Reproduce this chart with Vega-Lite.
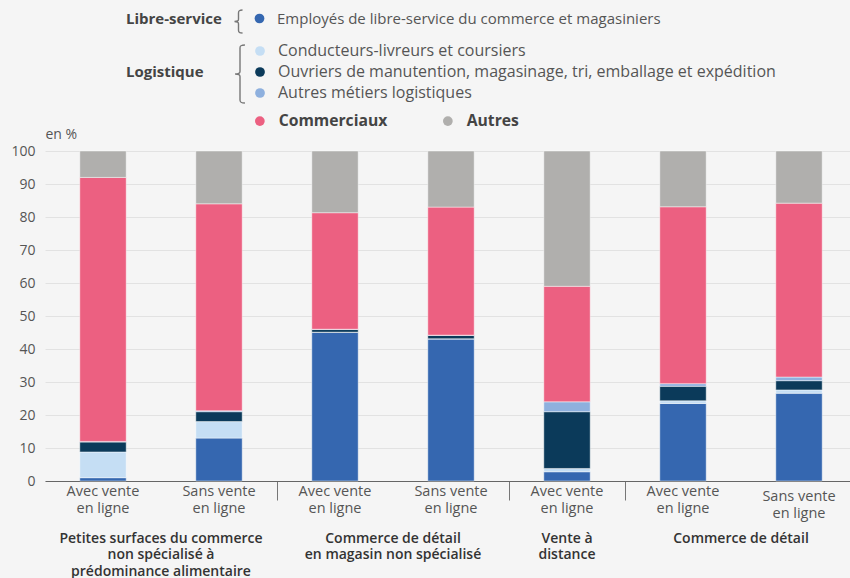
{
  "$schema": "https://vega.github.io/schema/vega-lite/v6.json",
  "autosize": {"type": "none"},
  "width": 805,
  "height": 330,
  "padding": {"left": 45, "top": 151, "right": 0, "bottom": 97},
  "background": "#f5f5f5",
  "config": {
    "view": {"stroke": null},
    "font": "Open Sans",
    "legend": {"padding": 0}
  },
  "data": {
    "values": [
      {"bar": "b1", "cat": "Employés de libre-service du commerce et magasiniers", "ord": 1, "value": 1},
      {"bar": "b1", "cat": "Conducteurs-livreurs et coursiers", "ord": 2, "value": 7.8},
      {"bar": "b1", "cat": "Ouvriers de manutention, magasinage, tri, emballage et expédition", "ord": 3, "value": 3},
      {"bar": "b1", "cat": "Autres métiers logistiques", "ord": 4, "value": 0.2},
      {"bar": "b1", "cat": "Commerciaux", "ord": 5, "value": 80},
      {"bar": "b1", "cat": "Autres", "ord": 6, "value": 8},
      {"bar": "b2", "cat": "Employés de libre-service du commerce et magasiniers", "ord": 1, "value": 13},
      {"bar": "b2", "cat": "Conducteurs-livreurs et coursiers", "ord": 2, "value": 5},
      {"bar": "b2", "cat": "Ouvriers de manutention, magasinage, tri, emballage et expédition", "ord": 3, "value": 3},
      {"bar": "b2", "cat": "Autres métiers logistiques", "ord": 4, "value": 0.3},
      {"bar": "b2", "cat": "Commerciaux", "ord": 5, "value": 62.7},
      {"bar": "b2", "cat": "Autres", "ord": 6, "value": 16},
      {"bar": "b3", "cat": "Employés de libre-service du commerce et magasiniers", "ord": 1, "value": 45},
      {"bar": "b3", "cat": "Conducteurs-livreurs et coursiers", "ord": 2, "value": 0.1},
      {"bar": "b3", "cat": "Ouvriers de manutention, magasinage, tri, emballage et expédition", "ord": 3, "value": 0.8},
      {"bar": "b3", "cat": "Autres métiers logistiques", "ord": 4, "value": 0.1},
      {"bar": "b3", "cat": "Commerciaux", "ord": 5, "value": 35.3},
      {"bar": "b3", "cat": "Autres", "ord": 6, "value": 18.7},
      {"bar": "b4", "cat": "Employés de libre-service du commerce et magasiniers", "ord": 1, "value": 43},
      {"bar": "b4", "cat": "Conducteurs-livreurs et coursiers", "ord": 2, "value": 0.1},
      {"bar": "b4", "cat": "Ouvriers de manutention, magasinage, tri, emballage et expédition", "ord": 3, "value": 1},
      {"bar": "b4", "cat": "Autres métiers logistiques", "ord": 4, "value": 0.1},
      {"bar": "b4", "cat": "Commerciaux", "ord": 5, "value": 38.8},
      {"bar": "b4", "cat": "Autres", "ord": 6, "value": 17},
      {"bar": "b5", "cat": "Employés de libre-service du commerce et magasiniers", "ord": 1, "value": 2.8},
      {"bar": "b5", "cat": "Conducteurs-livreurs et coursiers", "ord": 2, "value": 1},
      {"bar": "b5", "cat": "Ouvriers de manutention, magasinage, tri, emballage et expédition", "ord": 3, "value": 17.2},
      {"bar": "b5", "cat": "Autres métiers logistiques", "ord": 4, "value": 3},
      {"bar": "b5", "cat": "Commerciaux", "ord": 5, "value": 35},
      {"bar": "b5", "cat": "Autres", "ord": 6, "value": 41},
      {"bar": "b6", "cat": "Employés de libre-service du commerce et magasiniers", "ord": 1, "value": 23.5},
      {"bar": "b6", "cat": "Conducteurs-livreurs et coursiers", "ord": 2, "value": 0.8},
      {"bar": "b6", "cat": "Ouvriers de manutention, magasinage, tri, emballage et expédition", "ord": 3, "value": 4.4},
      {"bar": "b6", "cat": "Autres métiers logistiques", "ord": 4, "value": 0.8},
      {"bar": "b6", "cat": "Commerciaux", "ord": 5, "value": 53.6},
      {"bar": "b6", "cat": "Autres", "ord": 6, "value": 16.9},
      {"bar": "b7", "cat": "Employés de libre-service du commerce et magasiniers", "ord": 1, "value": 26.6},
      {"bar": "b7", "cat": "Conducteurs-livreurs et coursiers", "ord": 2, "value": 1},
      {"bar": "b7", "cat": "Ouvriers de manutention, magasinage, tri, emballage et expédition", "ord": 3, "value": 2.8},
      {"bar": "b7", "cat": "Autres métiers logistiques", "ord": 4, "value": 1.1},
      {"bar": "b7", "cat": "Commerciaux", "ord": 5, "value": 52.7},
      {"bar": "b7", "cat": "Autres", "ord": 6, "value": 15.8}
    ]
  },
  "layer": [
    {
      "mark": {"type": "bar", "width": {"band": 0.4}, "stroke": "#ffffff", "strokeOpacity": 0.45, "strokeWidth": 1},
      "encoding": {
        "x": {
          "field": "bar", "type": "nominal", "sort": null, "title": null,
          "scale": {"range": [0, 812], "paddingInner": 0, "paddingOuter": 0},
          "axis": {
            "orient": "bottom", "domain": false, "ticks": false, "grid": false,
            "labelAngle": 0, "labelFontSize": 14.5, "labelColor": "#555555", "labelLineHeight": 17,
            "labelBaseline": "top", "labelLimit": 300,
            "labelPadding": {"condition": {"test": "datum.value == 'b7'", "value": 8}, "value": 3},
            "labelExpr": "(datum.value == 'b1' || datum.value == 'b3' || datum.value == 'b5' || datum.value == 'b6') ? ['Avec vente', 'en ligne'] : ['Sans vente', 'en ligne']"
          }
        },
        "y": {
          "field": "value", "type": "quantitative", "stack": "zero",
          "scale": {"domain": [0, 100], "nice": false},
          "axis": {
            "title": "en %", "titleAngle": 0, "titleAlign": "left", "titleX": 0, "titleY": -10,
            "titleFontWeight": "normal", "titleFontSize": 14, "titleColor": "#555555",
            "values": [0, 10, 20, 30, 40, 50, 60, 70, 80, 90, 100],
            "domain": false, "ticks": false, "labelPadding": 10,
            "labelFontSize": 14, "labelColor": "#555555",
            "gridColor": "#e2e2e2", "gridWidth": 1
          }
        },
        "color": {
          "field": "cat", "type": "nominal",
          "scale": {
            "domain": ["Employés de libre-service du commerce et magasiniers", "Conducteurs-livreurs et coursiers", "Ouvriers de manutention, magasinage, tri, emballage et expédition", "Autres métiers logistiques", "Commerciaux", "Autres"],
            "range": ["#3567b0", "#c5def4", "#0b3a5a", "#8eb0de", "#ec6081", "#b0afad"]
          },
          "legend": {
            "values": ["Employés de libre-service du commerce et magasiniers"],
            "orient": "none", "legendX": 81, "legendY": -140,
            "title": "Libre-service", "titleOrient": "left", "titleFontSize": 15, "titleFontWeight": "bold",
            "titleColor": "#444444", "titlePadding": 30, "titleBaseline": "middle", "titleAnchor": "middle",
            "symbolType": "circle", "symbolSize": 95, "symbolStrokeWidth": 0,
            "labelFontSize": 15, "labelColor": "#555555", "labelLimit": 600, "labelOffset": 10
          }
        },
        "order": {"field": "ord", "type": "quantitative"}
      }
    },
    {
      "transform": [{"filter": "datum.ord >= 2 && datum.ord <= 4"}],
      "mark": {"type": "point", "opacity": 0, "filled": true},
      "encoding": {
        "x": {
          "field": "bar", "type": "nominal", "sort": null, "title": null,
          "axis": {
            "orient": "bottom", "domain": false, "ticks": false, "grid": false,
            "values": ["b1", "b3", "b5", "b6"],
            "labelAngle": 0, "labelFontSize": 14, "labelFontWeight": 600, "labelColor": "#333333",
            "labelLineHeight": 16.5, "labelBaseline": "top", "labelLimit": 400, "labelPadding": 50,
            "labelOffset": {"condition": {"test": "datum.value == 'b5'", "value": 0}, "value": 58},
            "labelExpr": "datum.value == 'b1' ? ['Petites surfaces du commerce', 'non spécialisé à', 'prédominance alimentaire'] : datum.value == 'b3' ? ['Commerce de détail', 'en magasin non spécialisé'] : datum.value == 'b5' ? ['Vente à', 'distance'] : 'Commerce de détail'"
          }
        },
        "color": {
          "field": "cat", "type": "nominal",
          "scale": {
            "domain": ["Conducteurs-livreurs et coursiers", "Ouvriers de manutention, magasinage, tri, emballage et expédition", "Autres métiers logistiques"],
            "range": ["#c5def4", "#0b3a5a", "#8eb0de"]
          },
          "legend": {
            "orient": "none", "legendX": 81, "legendY": -108,
            "title": "Logistique", "titleOrient": "left", "titleFontSize": 15, "titleFontWeight": "bold",
            "titleColor": "#444444", "titlePadding": 48, "titleBaseline": "middle", "titleAnchor": "middle",
            "symbolType": "circle", "symbolSize": 95, "symbolStrokeWidth": 0, "symbolOpacity": 1,
            "rowPadding": 5,
            "labelFontSize": 16, "labelColor": "#555555", "labelLimit": 600, "labelOffset": 10
          }
        }
      }
    },
    {
      "transform": [{"filter": "datum.ord >= 5"}],
      "mark": {"type": "point", "opacity": 0, "filled": true},
      "encoding": {
        "x": {
          "field": "bar", "type": "nominal", "sort": null, "title": null,
          "axis": {
            "orient": "bottom", "grid": false, "labels": false,
            "values": ["b3", "b5", "b6"], "bandPosition": 0,
            "domain": true, "domainColor": "#666666", "domainWidth": 1.2,
            "ticks": true, "tickSize": 19, "tickColor": "#777777", "tickWidth": 1
          }
        },
        "color": {
          "field": "cat", "type": "nominal",
          "scale": {"domain": ["Commerciaux", "Autres"], "range": ["#ec6081", "#b0afad"]},
          "legend": {
            "orient": "none", "legendX": 207, "legendY": -38, "direction": "horizontal",
            "title": null, "columnPadding": 52,
            "symbolType": "circle", "symbolSize": 95, "symbolStrokeWidth": 0, "symbolOpacity": 1,
            "labelFontSize": 15.7, "labelFontWeight": "bold", "labelColor": "#444444", "labelLimit": 300, "labelOffset": 11
          }
        }
      }
    },
    {
      "mark": {"type": "point", "opacity": 0, "filled": false, "color": "#777777", "strokeWidth": 1.4},
      "encoding": {
        "shape": {
          "datum": "brace1",
          "scale": {"domain": ["brace1"], "range": ["M0.35,-1 C0.05,-1 0,-0.92 0,-0.75 L0,-0.2 C0,-0.06 -0.1,0 -0.35,0 C-0.1,0 0,0.06 0,0.2 L0,0.75 C0,0.92 0.05,1 0.35,1"]},
          "legend": {
            "orient": "none", "legendX": 181, "legendY": -142, "title": null,
            "symbolSize": 529, "symbolStrokeColor": "#777777", "symbolStrokeWidth": 1.4, "symbolFillColor": "transparent", "symbolOpacity": 1,
            "labelExpr": "''"
          }
        }
      }
    },
    {
      "mark": {"type": "point", "opacity": 0, "filled": false, "color": "#777777", "strokeWidth": 1.4},
      "encoding": {
        "shape": {
          "datum": "brace2",
          "scale": {"domain": ["brace2"], "range": ["M0.17,-1 C0.02,-1 0,-0.97 0,-0.9 L0,-0.09 C0,-0.03 -0.05,0 -0.17,0 C-0.05,0 0,0.03 0,0.09 L0,0.9 C0,0.97 0.02,1 0.17,1"]},
          "legend": {
            "orient": "none", "legendX": 165, "legendY": -107, "title": null,
            "symbolSize": 3364, "symbolStrokeColor": "#777777", "symbolStrokeWidth": 1.4, "symbolFillColor": "transparent", "symbolOpacity": 1,
            "labelExpr": "''"
          }
        }
      }
    }
  ],
  "resolve": {
    "scale": {"color": "independent", "shape": "independent"},
    "axis": {"x": "independent"}
  }
}
